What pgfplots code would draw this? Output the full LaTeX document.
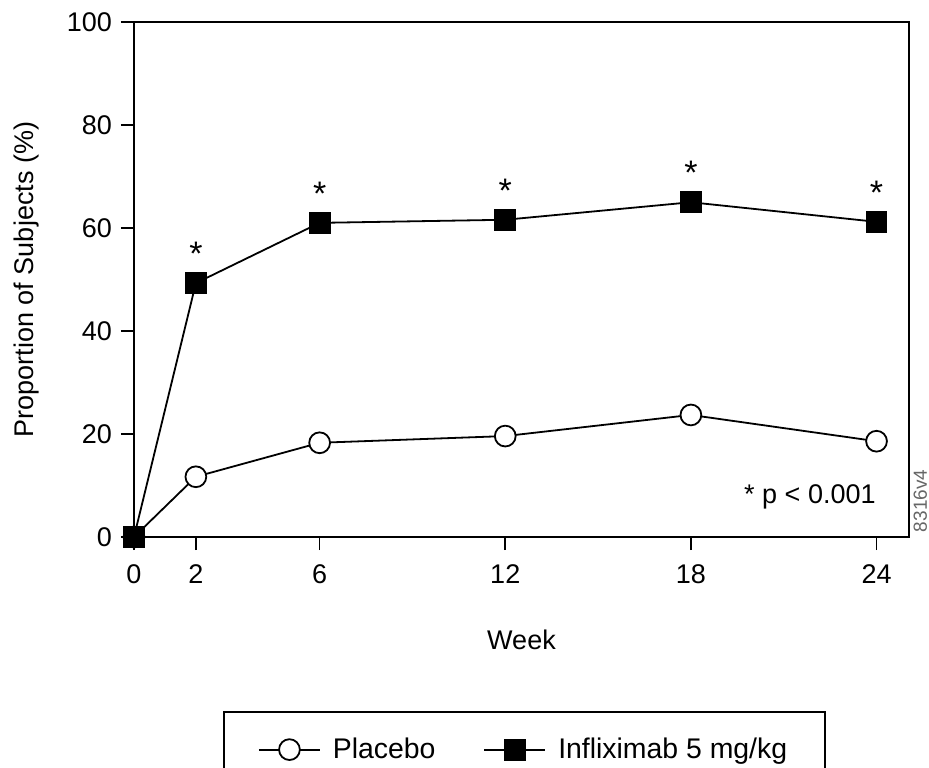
\documentclass[border=0pt]{standalone}
\usepackage{pgfplots}
\pgfplotsset{compat=1.18}
\usepackage{fontspec}
\setmainfont{Liberation Sans}

\begin{document}
\begin{tikzpicture}[font=\fontsize{13.5}{16}\selectfont,
  star/.style={font=\fontsize{17}{18}\selectfont, yshift=14.5pt}]
  \begin{axis}[
    name=ax,
    scale only axis,
    width=387.5pt, height=257.5pt,
    xmin=0, xmax=25.05,
    ymin=0, ymax=100,
    xtick={0,2,6,12,18,24},
    ytick={0,20,40,60,80,100},
    tick align=outside,
    major tick length=6.5pt,
    xtick pos=bottom, ytick pos=left,
    axis line style={line width=1pt},
    tick style={line width=0.8pt, black},
    /pgf/number format/assume math mode=true,
    xticklabel style={yshift=-4pt},
    yticklabel style={xshift=-1pt},
    xlabel={Week},
    ylabel={Proportion of Subjects (\%)},
    every axis x label/.style={at={(axis description cs:0.5,0)}, anchor=center, yshift=-51.5pt},
    every axis y label/.style={at={(axis description cs:0,0.5)}, anchor=center, rotate=90, yshift=53.5pt},
    clip=false,
    legend columns=2,
    legend style={
      at={(axis description cs:0.504,0)}, anchor=north, yshift=-87pt,
      draw=black, line width=0.8pt,
      font=\fontsize{14.2}{16}\selectfont,
      inner xsep=17pt, inner ysep=11pt,
      /tikz/every odd column/.append style={column sep=4pt},
      /tikz/every even column/.append style={column sep=22pt},
    },
    legend image code/.code={
      \draw[mark repeat=2, mark phase=2, #1]
        plot coordinates {(0pt,0pt) (15.25pt,0pt) (30.5pt,0pt)};
    },
  ]

    \addplot[black, line width=0.9pt, mark=*, mark size=5.2pt,
      mark options={fill=white, line width=0.9pt}] coordinates {
      (0,0) (2,11.7) (6,18.3) (12,19.6) (18,23.7) (24,18.6)
    };
    \addlegendentry{Placebo}

    \addplot[black, line width=0.9pt, mark=square*, mark size=5pt,
      mark options={fill=black}] coordinates {
      (0,0) (2,49.3) (6,61.0) (12,61.6) (18,65.0) (24,61.2)
    };
    \addlegendentry{Infliximab 5 mg/kg}

    % significance markers
    \node[star] at (axis cs:2,49.3) {*};
    \node[star] at (axis cs:6,61.0) {*};
    \node[star] at (axis cs:12,61.6) {*};
    \node[star] at (axis cs:18,65.0) {*};
    \node[star] at (axis cs:24,61.2) {*};

    \node[anchor=east] at (rel axis cs:0.966,0.078) {* p < 0.001};
    \node[rotate=90, font=\fontsize{9.5}{10}\selectfont, text=black!60] at (rel axis cs:1.0145,0.07) {8316v4};
  \end{axis}

  \pgfresetboundingbox
  \path (ax.south west) ++(-67pt,-115pt) coordinate (bl);
  \path (ax.north east) ++(10pt,11pt) coordinate (tr);
  \useasboundingbox (bl) rectangle (tr);
\end{tikzpicture}
\end{document}
